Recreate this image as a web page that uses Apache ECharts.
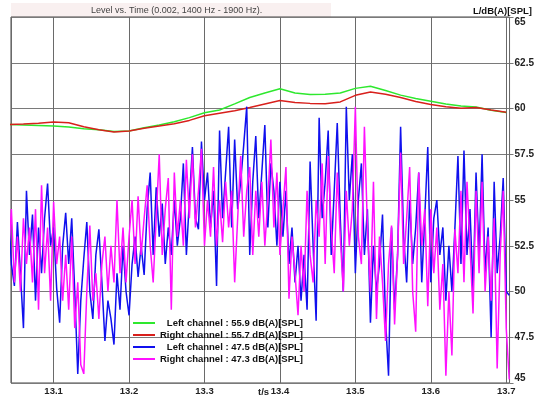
<!DOCTYPE html>
<html><head><meta charset="utf-8">
<script src="https://cdn.jsdelivr.net/npm/echarts@6/dist/echarts.min.js"></script>
<style>html,body{margin:0;padding:0;background:#fff}#c{width:537px;height:396px}</style>
</head><body><div id="c"></div>
<script>
// ---- data ----
const xTicks = [13.1, 13.2, 13.3, 13.4, 13.5, 13.6, 13.7];
const yTicks = [45, 47.5, 50, 52.5, 55, 57.5, 60, 62.5, 65];
const seriesNames = [
  'Left channel : 55.9 dB(A)[SPL]',
  'Right channel : 55.7 dB(A)[SPL]',
  'Left channel : 47.5 dB(A)[SPL]',
  'Right channel : 47.3 dB(A)[SPL]'
];
// slow level (sampled every 0.02 s from 13.04 s)
const levelTimes = [13.04,13.06,13.08,13.10,13.12,13.14,13.16,13.18,13.20,13.22,13.24,13.26,13.28,13.30,13.32,13.34,13.36,13.38,13.40,13.42,13.44,13.46,13.48,13.50,13.52,13.54,13.56,13.58,13.60,13.62,13.64,13.66,13.68,13.70];
const leftSlow  = [59.13,59.10,59.07,59.04,58.99,58.90,58.84,58.74,58.77,58.95,59.10,59.28,59.50,59.77,59.92,60.25,60.60,60.85,61.08,60.85,60.76,60.78,60.85,61.10,61.22,60.98,60.73,60.55,60.40,60.25,60.14,60.08,59.90,59.78];
const rightSlow = [59.12,59.15,59.20,59.26,59.22,59.00,58.84,58.72,58.77,58.92,59.05,59.17,59.35,59.60,59.74,59.88,60.05,60.25,60.44,60.33,60.28,60.26,60.36,60.72,60.90,60.78,60.60,60.38,60.22,60.10,60.02,60.06,59.92,59.80];
// fast level (sampled every 0.004 s from 13.040 s)
const fastStart = 13.040, fastStep = 0.004;
const leftFast = [
  54.5,51.5,50.3,53.8,51.0,48.0,55.5,52.0,54.2,49.5,
  53.5,51.0,54.0,55.9,52.5,53.5,50.2,48.3,52.5,54.3,
  51.5,54.0,50.0,45.5,49.5,51.8,53.8,50.0,48.5,52.0,
  53.4,50.5,47.3,49.5,48.5,47.1,51.0,49.0,52.5,50.0,
  48.7,51.5,53.0,50.8,52.5,50.9,54.5,56.5,52.0,55.7,
  53.0,54.8,51.5,53.5,52.0,55.0,52.5,54.0,57.0,52.0,
  55.0,57.9,54.0,53.4,58.2,55.0,56.5,53.5,55.5,50.3,
  58.8,54.0,56.5,59.0,53.5,58.3,54.5,56.0,58.0,60.1,
  52.0,56.0,58.5,54.0,56.5,59.1,53.5,57.0,55.5,52.5,
  56.0,53.0,55.5,51.5,53.5,50.5,52.5,49.5,52.0,49.0,
  57.1,52.5,48.4,59.5,54.0,56.0,58.8,52.0,55.5,59.2,
  54.0,50.0,60.1,55.0,57.5,51.0,55.0,57.0,52.0,54.5,
  48.3,52.5,50.0,51.5,54.2,48.5,45.4,53.5,49.0,52.0,
  59.0,53.0,50.5,55.0,51.5,53.5,56.5,50.5,54.0,57.9,
  50.5,54.0,55.0,52.0,53.5,49.5,52.5,50.0,53.5,57.4,
  51.5,57.7,52.0,54.5,50.0,56.5,52.0,57.5,51.0,53.5,
  47.5,56.0,51.0,53.0,56.2,50.0,49.8
];
const rightFast = [
  52.0,54.5,50.5,53.0,50.0,54.0,51.5,53.5,50.5,54.5,
  49.0,55.8,51.0,53.5,49.5,54.9,51.5,53.0,49.5,52.0,
  49.0,53.0,48.0,50.5,46.0,45.5,50.0,53.6,49.5,51.0,
  48.5,51.5,53.0,50.0,52.5,50.5,55.0,51.0,53.5,50.5,
  53.0,55.0,51.5,55.2,52.0,54.0,55.8,52.5,50.5,54.0,
  57.5,52.0,54.5,56.2,49.0,56.5,53.0,55.0,52.5,57.2,
  54.0,57.5,53.5,55.5,57.8,52.5,55.0,53.0,56.8,52.5,
  55.0,52.7,56.0,53.5,55.5,50.5,54.0,57.4,53.0,55.5,
  56.8,52.0,55.5,53.0,56.0,52.5,55.0,58.3,53.5,56.5,
  52.0,54.5,56.8,49.6,53.0,51.0,48.7,52.5,50.0,55.5,
  52.0,50.5,55.0,53.0,57.0,51.5,57.4,53.5,51.0,56.5,
  53.0,50.0,55.5,52.5,54.5,60.1,53.0,51.5,59.0,53.5,
  50.0,56.0,48.5,53.0,50.5,47.3,51.5,53.6,48.2,52.0,
  57.6,51.5,54.0,56.8,50.0,47.8,56.5,52.5,54.5,49.2,
  54.5,51.0,53.5,49.0,51.5,45.4,50.0,46.5,53.4,51.0,
  55.5,50.5,56.0,52.5,48.8,55.5,51.0,56.0,50.0,53.0,
  49.5,54.0,45.8,52.0,55.5,48.0,45.2
];

// ---- build ----
const pair = (ts, vs) => vs.map((v, i) => [ts[i], v]);
const fastTimes = leftFast.map((_, i) => +(fastStart + i * fastStep).toFixed(3));
const colors = ['#2ee82e', '#d8201c', '#1010ee', '#ff10ff'];

const chart = echarts.init(document.getElementById('c'), null, {renderer: 'canvas'});
const font = '"Liberation Sans", Arial, sans-serif';
chart.setOption({
  animation: false,
  backgroundColor: '#ffffff',
  textStyle: {fontFamily: font},
  grid: {left: 11, right: 27, top: 17, bottom: 11, show: true, borderColor: '#444', borderWidth: 1, backgroundColor: 'transparent'},
  xAxis: {
    type: 'value', min: 13.0435, max: 13.7044, splitNumber: 6,
    axisLine: {show: false}, axisTick: {show: false},
    splitLine: {show: true, lineStyle: {color: '#6a6a6a', width: 1}},
    axisLabel: {
      showMinLabel: false, showMaxLabel: false, margin: 3,
      fontSize: 9.5, fontWeight: 'bold', color: '#222', fontFamily: font,
      formatter: v => {
        const hit = xTicks.find(t => Math.abs(t - v) < 1e-6);
        return hit === undefined ? '' : hit.toFixed(1);
      }
    }
  },
  yAxis: {
    type: 'value', position: 'right', min: yTicks[0], max: yTicks[yTicks.length - 1], interval: 2.5,
    axisLine: {show: false},
    axisTick: {show: true, length: 4, lineStyle: {color: '#777'}},
    splitLine: {show: true, lineStyle: {color: '#7a7a7a', width: 1}},
    axisLabel: {
      margin: 5, fontSize: 10, fontWeight: 'bold', color: '#222', fontFamily: font,
      verticalAlignMaxLabel: 'top', verticalAlignMinLabel: 'bottom',
      formatter: v => String(v)
    }
  },
  legend: {
    orient: 'vertical', left: 133, top: 317, padding: 0, itemGap: 0,
    itemWidth: 22, itemHeight: 2, icon: 'rect',
    data: seriesNames,
    formatter: name => '{a|' + name + '}',
    textStyle: {
      fontFamily: font, fontSize: 9.5, fontWeight: 'bold', color: '#111', lineHeight: 12,
      rich: {a: {width: 143, align: 'right', fontSize: 9.5, fontWeight: 'bold', lineHeight: 12, color: '#111'}}
    },
    selectedMode: false
  },
  graphic: [
    {type: 'rect', left: 11, top: 3, shape: {width: 320, height: 14}, style: {fill: '#f9f0f0'}, z: -1},
    {type: 'text', left: 91, top: 6, style: {text: 'Level vs. Time (0.002, 1400 Hz - 1900 Hz).', fill: '#444', font: '9px "Liberation Sans", Arial, sans-serif'}},
    {type: 'text', right: 5, top: 6, style: {text: 'L/dB(A)[SPL]', fill: '#111', font: 'bold 9.5px "Liberation Sans", Arial, sans-serif'}},
    {type: 'text', left: 258, top: 387, style: {text: 't/s', fill: '#222', font: 'bold 9.5px "Liberation Sans", Arial, sans-serif'}}
  ],
  series: [
    {name: seriesNames[0], type: 'line', data: pair(levelTimes, leftSlow), showSymbol: false, smooth: false, lineStyle: {color: colors[0], width: 1.5}, itemStyle: {color: colors[0]}, z: 2},
    {name: seriesNames[1], type: 'line', data: pair(levelTimes, rightSlow), showSymbol: false, lineStyle: {color: colors[1], width: 1.5}, itemStyle: {color: colors[1]}, z: 3},
    {name: seriesNames[2], type: 'line', data: pair(fastTimes, leftFast), showSymbol: false, lineStyle: {color: colors[2], width: 1.5}, itemStyle: {color: colors[2]}, z: 4},
    {name: seriesNames[3], type: 'line', data: pair(fastTimes, rightFast), showSymbol: false, lineStyle: {color: colors[3], width: 1.5}, itemStyle: {color: colors[3]}, z: 5}
  ]
});
</script></body></html>
